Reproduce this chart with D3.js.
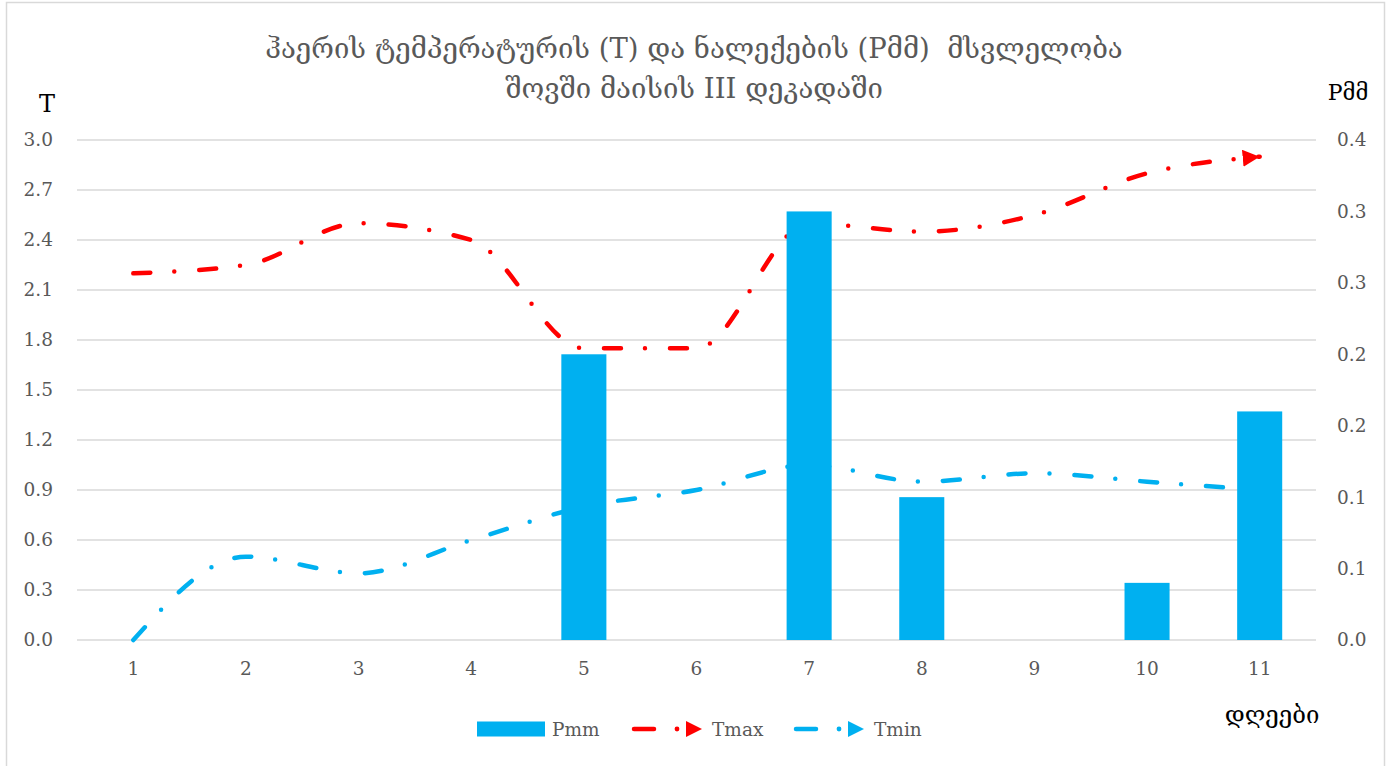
<!DOCTYPE html>
<html><head><meta charset="utf-8">
<script src="https://cdn.jsdelivr.net/npm/d3@7"></script>
<style>body{margin:0;background:#fff} svg{display:block}</style>
</head><body><svg id="c" width="1391" height="766"></svg>
<script>
const days = ["1","2","3","4","5","6","7","8","9","10","11"];
const pmm  = [0, 0, 0, 0, 0.2, 0, 0.3, 0.1, 0, 0.04, 0.16];
const tmax = [2.2, 2.25, 2.5, 2.4, 1.75, 1.75, 2.5, 2.45, 2.55, 2.8, 2.9];
const tmin = [0, 0.5, 0.4, 0.6, 0.8, 0.9, 1.05, 0.95, 1.0, 0.95, 0.9];
const leftTicks = [0, 0.3, 0.6, 0.9, 1.2, 1.5, 1.8, 2.1, 2.4, 2.7, 3.0];
const rightTicks = [0, 0.05, 0.1, 0.15, 0.2, 0.25, 0.3, 0.35];
const rightTickLabels = ["0.0","0.1","0.1","0.2","0.2","0.3","0.3","0.4"];
const titleLines = ["ჰაერის ტემპერატურის (T) და ნალექების (Pმმ)  მსვლელობა", "შოვში მაისის III დეკადაში"];
const leftTitle = "T", rightTitle = "Pმმ", xTitle = "დღეები";
const seriesNames = ["Pmm", "Tmax", "Tmin"];

const svg = d3.select("#c");
const L = 77, R = 1316, T = 140, B = 640;
const serif = "'DejaVu Serif', 'Liberation Serif', serif";
const gray = "#595959", blue = "#00B0F0", red = "#FF0000";

svg.append("rect").attr("x", 6.5).attr("y", 2.5).attr("width", 1378).attr("height", 780)
  .attr("fill", "#fff").attr("stroke", "#D9D9D9").attr("stroke-width", 1.5);

const x = d3.scaleBand().domain(days).range([L, R]).paddingInner(0.6).paddingOuter(0.3);
const xc = d => x(d) + x.bandwidth() / 2;
const yL = d3.scaleLinear().domain([0, 3.0]).range([B, T]);
const yR = d3.scaleLinear().domain([0, 0.35]).range([B, T]);

// gridlines
svg.append("g").selectAll("line").data(leftTicks).join("line")
  .attr("x1", L).attr("x2", R).attr("y1", d => yL(d)).attr("y2", d => yL(d))
  .attr("stroke", "#D9D9D9").attr("stroke-width", 1.3);

// left axis
const gl = svg.append("g").attr("transform", `translate(${L},0)`)
  .call(d3.axisLeft(yL).tickValues(leftTicks).tickFormat(d3.format(".1f")).tickSize(0).tickPadding(24));
gl.select(".domain").remove();
gl.selectAll("text").attr("font-family", serif).attr("font-size", 18.5).attr("fill", gray);

// right axis
const gr = svg.append("g").attr("transform", `translate(${R},0)`)
  .call(d3.axisRight(yR).tickValues(rightTicks).tickFormat((d, i) => rightTickLabels[i]).tickSize(0).tickPadding(21));
gr.select(".domain").remove();
gr.selectAll("text").attr("font-family", serif).attr("font-size", 18.5).attr("fill", gray);

// x axis
const gx = svg.append("g").attr("transform", `translate(0,${B})`)
  .call(d3.axisBottom(x).tickSize(0).tickPadding(22));
gx.select(".domain").remove();
gx.selectAll("text").attr("font-family", serif).attr("font-size", 18.5).attr("fill", gray);

// markers
const defs = svg.append("defs");
function mk(id, col) {
  defs.append("marker").attr("id", id).attr("viewBox", "0 0 10 10")
    .attr("refX", 10).attr("refY", 5).attr("markerWidth", 17).attr("markerHeight", 17)
    .attr("markerUnits", "userSpaceOnUse").attr("orient", "auto")
    .append("path").attr("d", "M0,0 L10,5 L0,10 Z").attr("fill", col);
}
mk("arR", red); mk("arB", blue);

const line = ys => d3.line().x((d, i) => xc(days[i])).y(d => ys(d)).curve(d3.curveMonotoneX);
const dash = "17 24 0 25";
svg.append("path").datum(tmin).attr("d", line(yL)).attr("fill", "none").attr("stroke", blue)
  .attr("stroke-width", 4.5).attr("stroke-linecap", "round").attr("stroke-dasharray", dash)
  .attr("marker-end", "url(#arB)");
svg.append("path").datum(tmax).attr("d", line(yL)).attr("fill", "none").attr("stroke", red)
  .attr("stroke-width", 4.5).attr("stroke-linecap", "round").attr("stroke-dasharray", dash)
  .attr("marker-end", "url(#arR)");

// bars on top
svg.append("g").selectAll("rect").data(pmm).join("rect")
  .attr("x", (d, i) => x(days[i])).attr("width", x.bandwidth())
  .attr("y", d => yR(d)).attr("height", d => B - yR(d)).attr("fill", blue);

// titles
svg.append("g").selectAll("text").data(titleLines).join("text")
  .attr("x", 694).attr("y", (d, i) => 58 + i * 40).attr("text-anchor", "middle")
  .attr("style", "white-space:pre")
  .attr("font-family", serif).attr("font-size", 27.5).attr("fill", gray).text(d => d);
svg.append("text").attr("x", 47).attr("y", 112).attr("text-anchor", "middle")
  .attr("font-family", serif).attr("font-size", 24).attr("fill", "#000").text(leftTitle);
svg.append("text").attr("x", 1348).attr("y", 100).attr("text-anchor", "middle")
  .attr("font-family", serif).attr("font-size", 22).attr("fill", "#000").text(rightTitle);
svg.append("text").attr("x", 1272).attr("y", 723).attr("text-anchor", "middle")
  .attr("font-family", serif).attr("font-size", 24).attr("fill", "#000").text(xTitle);

// legend
const lg = svg.append("g");
const ly = 729;
lg.append("rect").attr("x", 477).attr("y", ly - 7.5).attr("width", 68).attr("height", 15).attr("fill", blue);
lg.append("text").attr("x", 552).attr("y", ly + 6.5).attr("font-family", serif).attr("font-size", 18.5)
  .attr("fill", gray).text(seriesNames[0]);
[[632, red, seriesNames[1]], [794, blue, seriesNames[2]]].forEach(([x0, col, name]) => {
  lg.append("line").attr("x1", x0 + 2).attr("x2", x0 + 22).attr("y1", ly).attr("y2", ly)
    .attr("stroke", col).attr("stroke-width", 4.5).attr("stroke-linecap", "round");
  lg.append("circle").attr("cx", x0 + 45).attr("cy", ly).attr("r", 2.4).attr("fill", col);
  lg.append("path").attr("d", `M${x0 + 54},${ly - 8} L${x0 + 70},${ly} L${x0 + 54},${ly + 8} Z`).attr("fill", col);
  lg.append("text").attr("x", x0 + 80).attr("y", ly + 6.5).attr("font-family", serif).attr("font-size", 18.5)
    .attr("fill", gray).text(name);
});
</script></body></html>
